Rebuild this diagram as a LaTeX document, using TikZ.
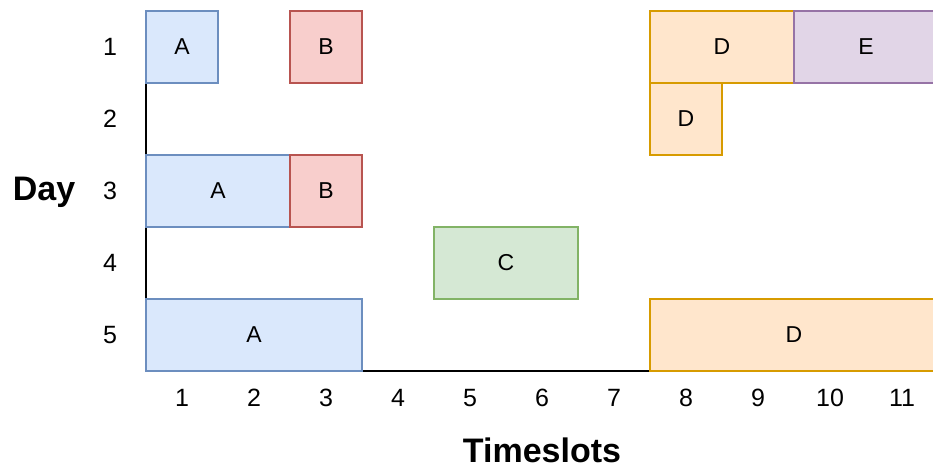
\documentclass[tikz,border=0pt]{standalone}
\usepackage{fontspec}
\setmainfont{Liberation Sans}
\definecolor{blueF}{HTML}{DAE8FC}\definecolor{blueS}{HTML}{6C8EBF}
\definecolor{redF}{HTML}{F8CECC}\definecolor{redS}{HTML}{B85450}
\definecolor{greenF}{HTML}{D5E8D4}\definecolor{greenS}{HTML}{82B366}
\definecolor{orangeF}{HTML}{FFE6CC}\definecolor{orangeS}{HTML}{D79B00}
\definecolor{purpleF}{HTML}{E1D5E7}\definecolor{purpleS}{HTML}{9673A6}
\begin{document}
\begin{tikzpicture}[x=1pt,y=-1pt,
  slot/.style={draw, line width=1.1pt, anchor=north west, inner sep=0pt, outer sep=0pt,
    minimum height=72pt, font=\fontsize{23}{27}\selectfont},
  taskA/.style={slot, fill=blueF, draw=blueS},
  taskB/.style={slot, fill=redF, draw=redS},
  taskC/.style={slot, fill=greenF, draw=greenS},
  taskD/.style={slot, fill=orangeF, draw=orangeS},
  taskE/.style={slot, fill=purpleF, draw=purpleS},
  tick/.style={font=\fontsize{25}{30}\selectfont, inner sep=0pt},
  axtitle/.style={font=\fontsize{34}{40}\selectfont\bfseries, inner sep=0pt},
  axis/.style={line width=1.2pt, black}]
\useasboundingbox (0,0) rectangle (933,469);
\clip (0,0) rectangle (933,469);

% axes
\coordinate (top) at (146,11);
\coordinate (origin) at (146,371);
\coordinate (right) at (940,371);
\draw[axis] (top) -- (origin) -- (right);

% schedule blocks: columns are 72pt wide starting at x=146, rows 72pt tall starting at y=11
\node[taskA, minimum width=72pt]  (a1) at (146,11)  {A};
\node[taskB, minimum width=72pt]  (b1) at (290,11)  {B};
\node[taskD, minimum width=144pt] (d1) at (650,11)  {D};
\node[taskE, minimum width=144pt] (e1) at (794,11)  {E};
\node[taskD, minimum width=72pt]  (d2) at (650,83)  {D};
\node[taskA, minimum width=144pt] (a3) at (146,155) {A};
\node[taskB, minimum width=72pt]  (b3) at (290,155) {B};
\node[taskC, minimum width=144pt] (c4) at (434,227) {C};
\node[taskA, minimum width=216pt] (a5) at (146,299) {A};
\node[taskD, minimum width=288pt] (d5) at (650,299) {D};

% day labels
\foreach \d in {1,...,5}
  \node[tick] (day\d) at (110,{47+72*(\d-1)}) {\d};
\node[axtitle] (daytitle) at (44,192) {Day};

% timeslot labels
\foreach \t in {1,...,11}
  \node[tick] (ts\t) at ({182+72*(\t-1)},398) {\t};
\node[axtitle] (tstitle) at (542,450) {Timeslots};
\end{tikzpicture}
\end{document}
